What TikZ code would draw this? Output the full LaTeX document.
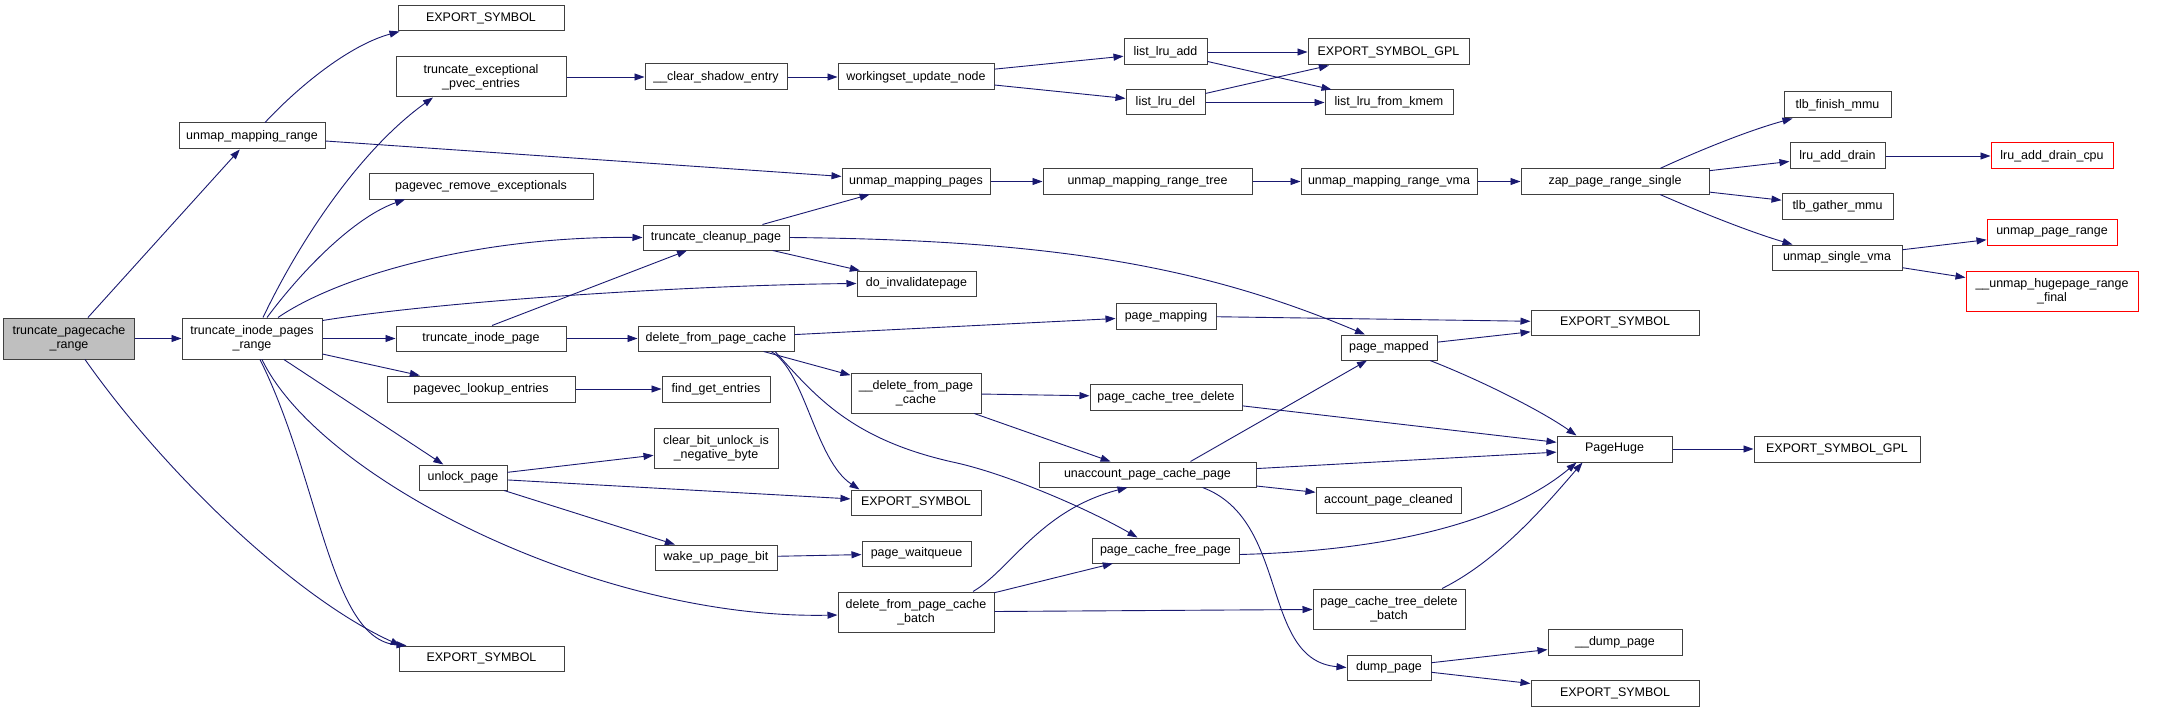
\documentclass[tikz,border=0pt]{standalone}
\usepackage{fontspec}
\setmainfont{Liberation Sans}
\usetikzlibrary{arrows.meta}
\definecolor{edgecol}{HTML}{191970}
\definecolor{boxline}{HTML}{404040}
\definecolor{rootfill}{HTML}{BFBFBF}
\newcommand\mkbox[7]{%
 \pgfmathsetmacro\cx{(#3+#5)/2}%
 \pgfmathsetmacro\cy{(#4+#6)/2}%
 \pgfmathsetmacro\w{#5-#3}%
 \pgfmathsetmacro\h{#6-#4}%
 \node[#1, minimum width=\w bp, minimum height=\h bp] (#2) at (\cx,\cy) {#7};}
\begin{document}
\begin{tikzpicture}[x=1bp,y=-1bp,
 nodebox/.style={draw=boxline, line width=1bp, fill=white, inner sep=0pt, align=center, font=\fontsize{12.5}{14}\selectfont},
 rootbox/.style={nodebox, fill=rootfill},
 redbox/.style={nodebox, draw=red},
 conn/.style={draw=edgecol, line width=0.9bp, -{Triangle[length=10bp,width=7bp]}}]
\useasboundingbox (0,0) rectangle (2163,712);
\fill[white] (0,0) rectangle (2163,712);
% nodes
\mkbox{rootbox}{root}{4}{318}{134}{359}{truncate\_pagecache\\\_range}
\mkbox{nodebox}{tipr}{182}{318}{322}{359}{truncate\_inode\_pages\\\_range}
\mkbox{nodebox}{umr}{179}{123}{325}{149}{unmap\_mapping\_range}
\mkbox{nodebox}{es1}{398}{6}{564}{31}{EXPORT\_SYMBOL}
\mkbox{nodebox}{tepe}{396}{57}{566}{97}{truncate\_exceptional\\\_pvec\_entries}
\mkbox{nodebox}{pre}{369}{174}{593}{199}{pagevec\_remove\_exceptionals}
\mkbox{nodebox}{tip}{396}{326}{566}{351}{truncate\_inode\_page}
\mkbox{nodebox}{ple}{387}{376}{575}{402}{pagevec\_lookup\_entries}
\mkbox{nodebox}{ulp}{419}{465}{507}{490}{unlock\_page}
\mkbox{nodebox}{es2}{399}{646}{564}{671}{EXPORT\_SYMBOL}
\mkbox{nodebox}{cse}{645}{64}{787}{90}{\_\_clear\_shadow\_entry}
\mkbox{nodebox}{wun}{838}{64}{994}{90}{workingset\_update\_node}
\mkbox{nodebox}{tcp}{643}{225}{789}{250}{truncate\_cleanup\_page}
\mkbox{nodebox}{dip}{857}{271}{976}{296}{do\_invalidatepage}
\mkbox{nodebox}{dfpc}{638}{326}{794}{351}{delete\_from\_page\_cache}
\mkbox{nodebox}{fge}{662}{376}{770}{402}{find\_get\_entries}
\mkbox{nodebox}{cbu}{654}{428}{778}{468}{clear\_bit\_unlock\_is\\\_negative\_byte}
\mkbox{nodebox}{wupb}{655}{545}{777}{570}{wake\_up\_page\_bit}
\mkbox{nodebox}{pwq}{862}{541}{971}{566}{page\_waitqueue}
\mkbox{nodebox}{es3}{851}{490}{981}{515}{EXPORT\_SYMBOL}
\mkbox{nodebox}{dfpcb}{838}{592}{994}{632}{delete\_from\_page\_cache\\\_batch}
\mkbox{nodebox}{ddfpc}{851}{373}{981}{413}{\_\_delete\_from\_page\\\_cache}
\mkbox{nodebox}{ump}{842}{169}{990}{194}{unmap\_mapping\_pages}
\mkbox{nodebox}{umrt}{1043}{169}{1252}{194}{unmap\_mapping\_range\_tree}
\mkbox{nodebox}{umrv}{1301}{169}{1477}{194}{unmap\_mapping\_range\_vma}
\mkbox{nodebox}{zprs}{1521}{169}{1709}{194}{zap\_page\_range\_single}
\mkbox{nodebox}{lla}{1124}{39}{1207}{65}{list\_lru\_add}
\mkbox{nodebox}{lld}{1126}{90}{1205}{115}{list\_lru\_del}
\mkbox{nodebox}{gpl1}{1308}{39}{1469}{65}{EXPORT\_SYMBOL\_GPL}
\mkbox{nodebox}{llfk}{1325}{90}{1453}{115}{list\_lru\_from\_kmem}
\mkbox{nodebox}{pmg}{1116}{303}{1216}{329}{page\_mapping}
\mkbox{nodebox}{es4}{1531}{310}{1699}{335}{EXPORT\_SYMBOL}
\mkbox{nodebox}{pmd}{1341}{335}{1437}{360}{page\_mapped}
\mkbox{nodebox}{tfm}{1784}{92}{1891}{118}{tlb\_finish\_mmu}
\mkbox{nodebox}{lad}{1790}{143}{1885}{169}{lru\_add\_drain}
\mkbox{redbox}{ladc}{1991}{143}{2113}{169}{lru\_add\_drain\_cpu}
\mkbox{nodebox}{tgm}{1782}{194}{1893}{219}{tlb\_gather\_mmu}
\mkbox{nodebox}{usv}{1772}{245}{1902}{270}{unmap\_single\_vma}
\mkbox{redbox}{upr}{1987}{219}{2117}{245}{unmap\_page\_range}
\mkbox{redbox}{uhrf}{1966}{271}{2138}{311}{\_\_unmap\_hugepage\_range\\\_final}
\mkbox{nodebox}{pctd}{1090}{384}{1242}{410}{page\_cache\_tree\_delete}
\mkbox{nodebox}{uapc}{1039}{462}{1256}{487}{unaccount\_page\_cache\_page}
\mkbox{nodebox}{apc}{1316}{487}{1461}{513}{account\_page\_cleaned}
\mkbox{nodebox}{pcfp}{1092}{538}{1239}{563}{page\_cache\_free\_page}
\mkbox{nodebox}{pctdb}{1313}{589}{1465}{629}{page\_cache\_tree\_delete\\\_batch}
\mkbox{nodebox}{dpg}{1347}{655}{1431}{680}{dump\_page}
\mkbox{nodebox}{phg}{1557}{436}{1672}{462}{PageHuge}
\mkbox{nodebox}{dmp}{1548}{629}{1682}{655}{\_\_dump\_page}
\mkbox{nodebox}{es5}{1531}{680}{1699}{706}{EXPORT\_SYMBOL}
\mkbox{nodebox}{gpl2}{1754}{436}{1920}{462}{EXPORT\_SYMBOL\_GPL}
% edges
\draw[conn] (root) -- (umr);
\draw[conn] (root) -- (tipr);
\draw[conn] ([xshift=16bp]root.south) .. controls (170,480) and (300,600) .. ([xshift=2bp]es2.north west);
\draw[conn] ([xshift=8bp]tipr.south) .. controls (320,480) and (330,640) .. ([xshift=8bp]es2.north west);
\draw[conn] ([xshift=10bp]tipr.south) .. controls (320,480) and (600,620) .. ([yshift=-3bp]dfpcb.west);
\draw[conn] ([xshift=11bp]tipr.north) .. controls (300,240) and (360,150) .. ([xshift=-48bp]tepe.south);
\draw[conn] ([xshift=15bp]tipr.north) .. controls (310,260) and (360,215) .. ([xshift=-76bp]pre.south);
\draw[conn] ([xshift=26bp]tipr.north) .. controls (340,275) and (480,236) .. (tcp.west);
\draw[conn] ([yshift=-3bp]tipr.north east) .. controls (450,300) and (700,285) .. (dip.west);
\draw[conn] (tipr) -- (tip);
\draw[conn] (tipr) -- (ple);
\draw[conn] (tipr) -- (ulp);
\draw[conn] ([xshift=13bp]umr.north) .. controls (300,85) and (350,45) .. ([xshift=2bp]es1.south west);
\draw[conn] (umr) -- (ump);
\draw[conn] (tepe) -- (cse);
\draw[conn] (cse) -- (wun);
\draw[conn] (wun) -- (lla);
\draw[conn] (wun) -- (lld);
\draw[conn] (lla) -- (gpl1);
\draw[conn] (lla) -- (llfk);
\draw[conn] (lld) -- (gpl1);
\draw[conn] (lld) -- (llfk);
\draw[conn] (ump) -- (umrt);
\draw[conn] (umrt) -- (umrv);
\draw[conn] (umrv) -- (zprs);
\draw[conn] ([xshift=45bp]zprs.north) .. controls (1700,150) and (1750,130) .. ([xshift=9bp]tfm.south west);
\draw[conn] (zprs) -- (lad);
\draw[conn] (zprs) -- (tgm);
\draw[conn] ([xshift=45bp]zprs.south) .. controls (1700,212) and (1750,232) .. ([xshift=21bp]usv.north west);
\draw[conn] (lad) -- (ladc);
\draw[conn] (usv) -- (upr);
\draw[conn] (usv) -- (uhrf);
\draw[conn] (tcp) -- (ump);
\draw[conn] (tcp) -- (dip);
\draw[conn] (tcp.east) .. controls (1050,240) and (1200,265) .. ([xshift=-24bp]pmd.north);
\draw[conn] ([xshift=11bp]tip.north) -- ([xshift=-29bp]tcp.south);
\draw[conn] (tip) -- (dfpc);
\draw[conn] (dfpc) -- (pmg);
\draw[conn] (dfpc) -- (ddfpc);
\draw[conn] ([xshift=55bp]dfpc.south) .. controls (805,370) and (815,460) .. ([xshift=9bp]es3.north west);
\draw[conn] ([xshift=59bp]dfpc.south) .. controls (815,395) and (850,440) .. (957,463) .. controls (1010,475) and (1090,510) .. ([xshift=-28bp]pcfp.north);
\draw[conn] (pmg) -- (es4);
\draw[conn] (pmd) -- (es4);
\draw[conn] ([xshift=41bp]pmd.south) .. controls (1480,380) and (1540,410) .. ([xshift=20bp]phg.north west);
\draw[conn] (ple) -- (fge);
\draw[conn] (ulp) -- (cbu);
\draw[conn] (ulp) -- (es3);
\draw[conn] (ulp) -- (wupb);
\draw[conn] (wupb) -- (pwq);
\draw[conn] (ddfpc) -- (pctd);
\draw[conn] (ddfpc) -- (uapc);
\draw[conn] (pctd) -- (phg);
\draw[conn] ([xshift=43bp]uapc.north) -- ([xshift=-22bp]pmd.south);
\draw[conn] (uapc) -- (phg);
\draw[conn] (uapc) -- (apc);
\draw[conn] ([xshift=55bp]uapc.south) .. controls (1290,520) and (1260,660) .. (dpg.west);
\draw[conn] ([yshift=-4bp]pcfp.east) .. controls (1420,550) and (1520,510) .. ([xshift=20bp]phg.south west);
\draw[conn] ([xshift=57bp]dfpcb.north) .. controls (1010,570) and (1040,510) .. ([xshift=-20bp]uapc.south);
\draw[conn] (dfpcb) -- (pcfp);
\draw[conn] (dfpcb) -- (pctdb);
\draw[conn] ([xshift=53bp]pctdb.north) .. controls (1500,560) and (1550,500) .. ([xshift=26bp]phg.south west);
\draw[conn] (phg) -- (gpl2);
\draw[conn] (dpg) -- (dmp);
\draw[conn] (dpg) -- (es5);
\end{tikzpicture}
\end{document}
